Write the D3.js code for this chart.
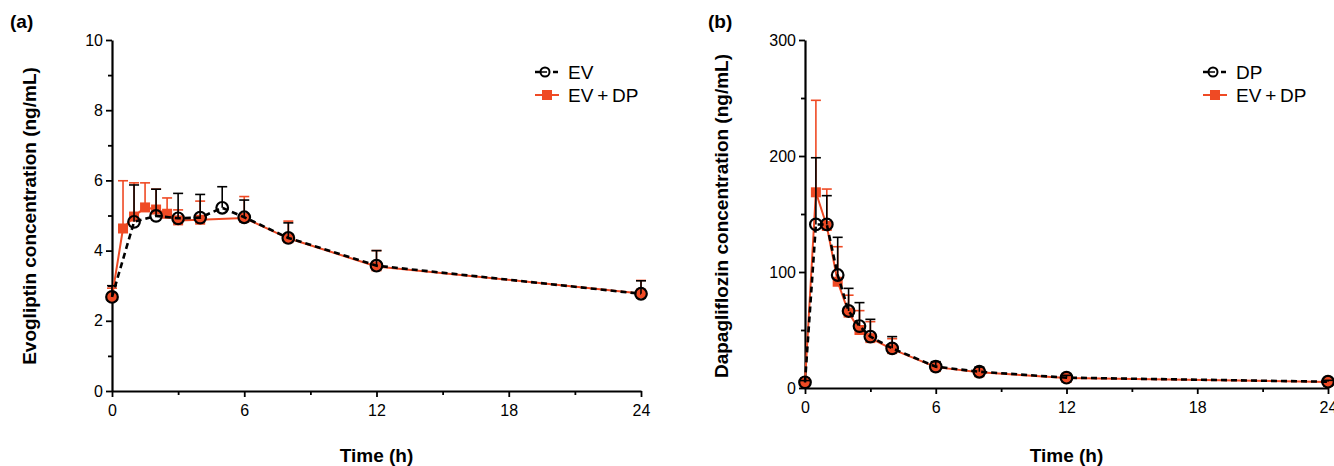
<!DOCTYPE html>
<html>
<head>
<meta charset="utf-8">
<script src="https://cdn.jsdelivr.net/npm/d3@7"></script>
<style>
body { margin: 0; background: #fff; }
svg { display: block; font-family: "Liberation Sans", Arial, sans-serif; }
</style>
</head>
<body>
<svg id="chart" width="1334" height="466"></svg>
<script>
// panel (a): evogliptin
var timeEV = [0, 1, 2, 3, 4, 5, 6, 8, 12, 24];
var meanEV = [2.68, 4.82, 4.99, 4.92, 4.94, 5.22, 4.95, 4.36, 3.57, 2.77];
var sdEV = [0.32, 1.05, 0.76, 0.71, 0.66, 0.60, 0.49, 0.43, 0.43, 0.37];

var timeEVDP_a = [0, 0.5, 1, 1.5, 2, 2.5, 3, 4, 6, 8, 12, 24];
var meanEVDP_a = [2.68, 4.63, 4.97, 5.23, 5.17, 5.05, 4.86, 4.88, 4.93, 4.35, 3.55, 2.78];
var sdEVDP_a = [0.25, 1.36, 0.96, 0.70, 0.58, 0.45, 0.30, 0.53, 0.61, 0.49, 0.45, 0.37];

// panel (b): dapagliflozin
var timeDP = [0, 0.5, 1, 1.5, 2, 2.5, 3, 4, 6, 8, 12, 24];
var meanDP = [4.9, 141, 141, 97.4, 66.4, 53.4, 44.3, 34.2, 18.4, 14, 8.9, 5.4];
var sdDP = [1.5, 57.5, 24.8, 32.5, 19.5, 20.2, 14.9, 10.1, 4.3, 4, 2, 1.2];

var timeEVDP_b = [0, 0.5, 1, 1.5, 2, 2.5, 3, 4, 6, 8, 12, 24];
var meanEVDP_b = [4.9, 168.7, 139.7, 91.6, 65, 50, 43, 33.5, 18, 13.5, 8.7, 5.2];
var sdEVDP_b = [1.5, 79.3, 31.8, 30.2, 15, 16.7, 14.2, 9, 4, 3.5, 1.8, 1];

var xTicks = [0, 6, 12, 18, 24];
var xMinor = [3, 9, 15, 21];

var RED = '#ef4a24';

function zip(t, m, s) {
    return t.map(function(d, i) { return {t: d, m: m[i], sd: s[i]}; });
}

var svg = d3.select('#chart');

function drawPanel(cfg) {
    var g = svg.append('g');
    var x = d3.scaleLinear().domain([0, 24]).range(cfg.xr);
    var y = d3.scaleLinear().domain([0, cfg.ymax]).range(cfg.yr);

    // axes, major and minor ticks
    var xAxis = d3.axisBottom(x).tickValues(xTicks).tickSize(6).tickSizeOuter(0)
        .tickFormat(d3.format('d'));
    var gx = g.append('g').attr('transform', 'translate(0,' + cfg.yr[0] + ')').call(xAxis);
    g.append('g').attr('transform', 'translate(0,' + cfg.yr[0] + ')')
        .call(d3.axisBottom(x).tickValues(xMinor).tickSize(4).tickFormat(''))
        .select('.domain').remove();

    var yAxis = d3.axisLeft(y).tickValues(cfg.yTicks).tickSize(6).tickSizeOuter(0);
    g.append('g').attr('transform', 'translate(' + cfg.xr[0] + ',0)').call(yAxis);
    g.append('g').attr('transform', 'translate(' + cfg.xr[0] + ',0)')
        .call(d3.axisLeft(y).tickValues(cfg.yMinor).tickSize(4).tickFormat(''))
        .select('.domain').remove();

    g.selectAll('.domain').attr('stroke', '#000').attr('stroke-width', 2.2);
    g.selectAll('.tick line').attr('stroke', '#000').attr('stroke-width', 1.8);
    g.selectAll('.tick text').attr('fill', '#000')
        .style('font-size', '16px').style('font-family', '"Liberation Sans", Arial, sans-serif');
    gx.selectAll('.tick text').attr('dy', '1.0em');

    // titles
    g.append('text')
        .attr('x', (cfg.xr[0] + cfg.xr[1]) / 2)
        .attr('y', 462)
        .attr('text-anchor', 'middle')
        .style('font-weight', 'bold').style('font-size', '19px')
        .text('Time (h)');
    g.append('text')
        .attr('transform', 'translate(' + cfg.ytx + ',' + 216 + ') rotate(-90)')
        .attr('text-anchor', 'middle')
        .style('font-weight', 'bold').style('font-size', '19px')
        .text(cfg.ytitle);
    g.append('text')
        .attr('x', cfg.labx).attr('y', 28)
        .style('font-weight', 'bold').style('font-size', '19px')
        .text(cfg.label);

    var line = d3.line().x(function(d) { return x(d.t); }).y(function(d) { return y(d.m); });

    var red = zip(cfg.redT, cfg.redM, cfg.redS);
    var black = zip(cfg.blkT, cfg.blkM, cfg.blkS);

    function errBars(data, color, w) {
        var e = g.append('g').attr('stroke', color).attr('stroke-width', w);
        e.selectAll('line.v').data(data).enter().append('line')
            .attr('x1', function(d) { return x(d.t); })
            .attr('x2', function(d) { return x(d.t); })
            .attr('y1', function(d) { return y(d.m); })
            .attr('y2', function(d) { return y(d.m + d.sd); });
        e.selectAll('line.c').data(data).enter().append('line')
            .attr('x1', function(d) { return x(d.t) - 5; })
            .attr('x2', function(d) { return x(d.t) + 5; })
            .attr('y1', function(d) { return y(d.m + d.sd); })
            .attr('y2', function(d) { return y(d.m + d.sd); });
    }

    // red series under the black one
    errBars(red, RED, 1.6);
    g.append('path').datum(red).attr('d', line)
        .attr('fill', 'none').attr('stroke', RED).attr('stroke-width', 2);
    g.selectAll('rect.sq').data(red).enter().append('rect')
        .attr('x', function(d) { return x(d.t) - 5; })
        .attr('y', function(d) { return y(d.m) - 5; })
        .attr('width', 10).attr('height', 10)
        .attr('fill', RED);

    errBars(black, '#000', 1.6);
    g.append('path').datum(black).attr('d', line)
        .attr('fill', 'none').attr('stroke', '#000').attr('stroke-width', 2.6)
        .attr('stroke-dasharray', '6,4');
    g.selectAll('circle.pt').data(black).enter().append('circle')
        .attr('cx', function(d) { return x(d.t); })
        .attr('cy', function(d) { return y(d.m); })
        .attr('r', 5.8)
        .attr('fill', 'none').attr('stroke', '#000').attr('stroke-width', 2.2);

    // legend
    var lg = g.append('g').attr('transform', 'translate(' + cfg.legx + ',0)');
    lg.append('line').attr('x1', 0).attr('x2', 24).attr('y1', 72).attr('y2', 72)
        .attr('stroke', '#000').attr('stroke-width', 2.5).attr('stroke-dasharray', '5,4');
    lg.append('circle').attr('cx', 10).attr('cy', 72).attr('r', 4.5)
        .attr('fill', '#fff').attr('stroke', '#000').attr('stroke-width', 2);
    lg.append('line').attr('x1', 4).attr('x2', 12).attr('y1', 72).attr('y2', 72)
        .attr('stroke', '#000').attr('stroke-width', 1.5);
    lg.append('text').attr('x', 33).attr('y', 78.5).style('font-size', '19px').text(cfg.blkName);
    lg.append('line').attr('x1', 0).attr('x2', 24).attr('y1', 95).attr('y2', 95)
        .attr('stroke', RED).attr('stroke-width', 2);
    lg.append('rect').attr('x', 7).attr('y', 90).attr('width', 10).attr('height', 10)
        .attr('fill', RED);
    lg.append('text').attr('x', 33).attr('y', 101.5).style('font-size', '19px')
        .text('EV\u2009+\u2009DP');
}

drawPanel({
    xr: [112, 641], yr: [391, 40], ymax: 10,
    yTicks: [0, 2, 4, 6, 8, 10], yMinor: [1, 3, 5, 7, 9],
    ytx: 36, ytitle: 'Evogliptin concentration (ng/mL)',
    label: '(a)', labx: 10, legx: 535,
    blkName: 'EV',
    blkT: timeEV, blkM: meanEV, blkS: sdEV,
    redT: timeEVDP_a, redM: meanEVDP_a, redS: sdEVDP_a
});

drawPanel({
    xr: [805, 1328], yr: [388, 40], ymax: 300,
    yTicks: [0, 100, 200, 300], yMinor: [50, 150, 250],
    ytx: 728, ytitle: 'Dapagliflozin concentration (ng/mL)',
    label: '(b)', labx: 708, legx: 1203,
    blkName: 'DP',
    blkT: timeDP, blkM: meanDP, blkS: sdDP,
    redT: timeEVDP_b, redM: meanEVDP_b, redS: sdEVDP_b
});
</script>
</body>
</html>
